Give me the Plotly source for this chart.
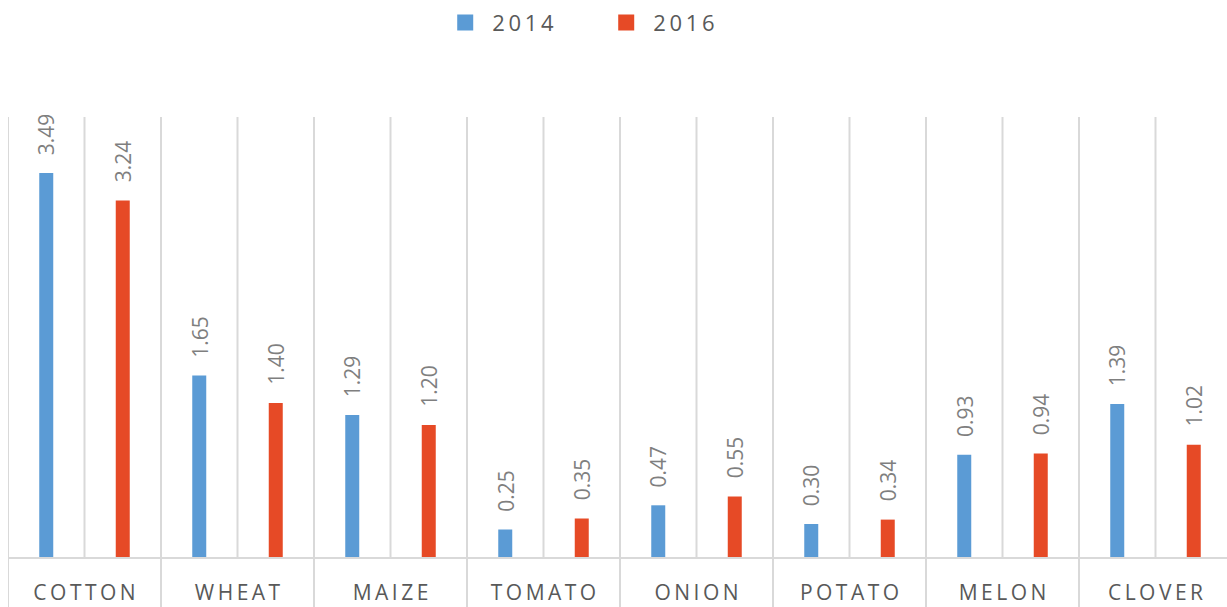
import plotly.graph_objects as go

categories = ["COTTON", "WHEAT", "MAIZE", "TOMATO", "ONION", "POTATO", "MELON", "CLOVER"]
series_names = ["2014", "2016"]
values_2014 = [3.49, 1.65, 1.29, 0.25, 0.47, 0.30, 0.93, 1.39]
values_2016 = [3.24, 1.40, 1.20, 0.35, 0.55, 0.34, 0.94, 1.02]
colors = ["#5B9BD5", "#E64A26"]

TS = "\u2009"  # thin space for letter spacing look
def spaced(s):
    return TS.join(list(s))

fig = go.Figure()
for name, vals, col in zip(series_names, [values_2014, values_2016], colors):
    fig.add_trace(go.Bar(x=categories, y=vals, name=name, marker_color=col,
                         marker_line_width=0, showlegend=False))
# legend proxies
for name, col in zip(series_names, colors):
    fig.add_trace(go.Scatter(x=[None], y=[None], mode="markers", name=spaced(name),
                             marker=dict(symbol="square", size=22, color=col)))

GRID = "#D9D9D9"
shapes = []
n = len(categories)
for i in range(n + 1):
    shapes.append(dict(type="line", xref="x", yref="paper", x0=i - 0.5, x1=i - 0.5,
                       y0=1, y1=-50 / 440, line=dict(color=GRID, width=2), layer="below"))
for i in range(n):
    shapes.append(dict(type="line", xref="x", yref="paper", x0=i, x1=i,
                       y0=1, y1=0, line=dict(color=GRID, width=2), layer="below"))

annotations = []
for k, vals in enumerate([values_2014, values_2016]):
    off = -0.25 if k == 0 else 0.25
    for i, v in enumerate(vals):
        annotations.append(dict(x=i + off, y=v, xref="x", yref="y", text=f"{v:.2f}",
                                showarrow=False, textangle=-90, yanchor="bottom",
                                xanchor="center", yshift=16,
                                font=dict(family="Open Sans", size=21, color="#7F7F7F")))

fig.update_layout(
    width=1227, height=607,
    margin=dict(l=8, r=0, t=117, b=50, autoexpand=False),
    paper_bgcolor="white", plot_bgcolor="white",
    barmode="group", bargap=0, bargroupgap=0.817,
    shapes=shapes, annotations=annotations,
    showlegend=True,
    legend=dict(orientation="h", x=0.485, xanchor="center", y=0.997, yanchor="top",
                yref="container", entrywidth=102, entrywidthmode="pixels",
                itemwidth=44,
                font=dict(family="Open Sans", size=22, color="#595959")),
    xaxis=dict(type="category", categoryorder="array", categoryarray=categories,
               range=[-0.5, -0.5 + 1219 / 153], showgrid=False, zeroline=False,
               showline=True, linecolor=GRID, linewidth=2, ticks="",
               tickmode="array", tickvals=categories, ticktext=[spaced(c) for c in categories],
               ticklabelstandoff=16, automargin=False,
               tickfont=dict(family="Open Sans", size=21, color="#595959")),
    yaxis=dict(range=[0, 4], visible=False, showgrid=False, zeroline=False, automargin=False),
)

fig.write_html("out.html")
